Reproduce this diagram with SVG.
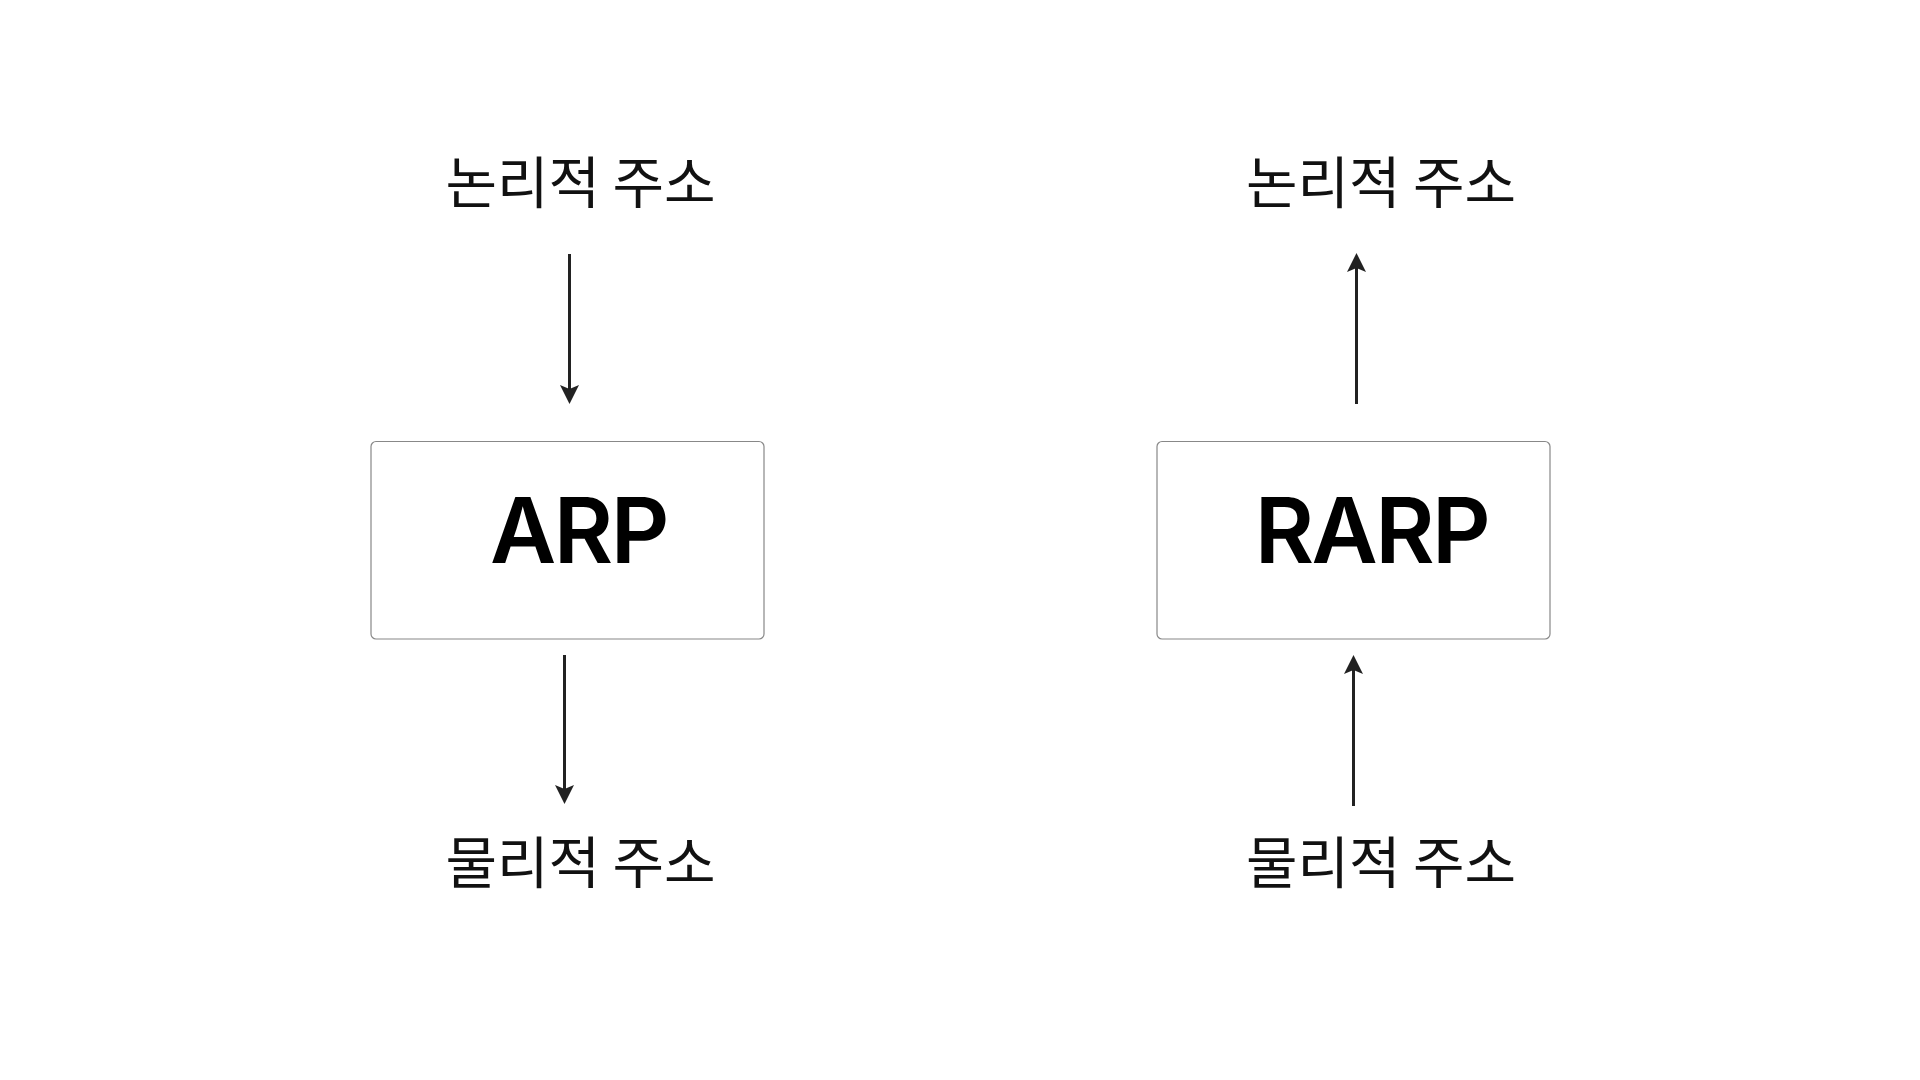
<svg xmlns="http://www.w3.org/2000/svg" width="1920" height="1080" viewBox="0 0 1920 1080">
  <style>
    .lbl { font-family: "Noto Sans CJK KR", "Noto Sans", sans-serif; font-size: 56px; font-weight: 400; fill: #111; text-anchor: middle; }
    .ttl { font-family: Inter, "Liberation Sans", sans-serif; font-size: 91px; font-weight: 600; fill: #000; text-anchor: middle; letter-spacing: -2.5px; }
    .box { fill: #fff; stroke: #888; stroke-width: 1.2; }
    .conn { stroke: #222; stroke-width: 3; fill: none; marker-end: url(#arrow); }
  </style>
  <defs>
    <marker id="arrow" markerUnits="userSpaceOnUse" markerWidth="20" markerHeight="20" refX="4" refY="9.5" orient="auto">
      <path d="M0,0 L19,9.5 L0,19 L4,9.5 Z" fill="#222"/>
    </marker>
  </defs>
  <rect width="1920" height="1080" fill="#fff"/>

  <g id="arp-logical">
    <text class="lbl" x="580.5" y="203">논리적 주소</text>
  </g>
  <g id="arp">
    <rect class="box" x="371" y="441.5" width="393" height="197.5" rx="5"/>
    <text class="ttl" x="578.5" y="563">ARP</text>
  </g>
  <g id="arp-physical">
    <text class="lbl" x="580.5" y="883">물리적 주소</text>
  </g>

  <g id="rarp-logical">
    <text class="lbl" x="1381" y="203">논리적 주소</text>
  </g>
  <g id="rarp">
    <rect class="box" x="1157" y="441.5" width="393" height="197.5" rx="5"/>
    <text class="ttl" x="1371.5" y="563">RARP</text>
  </g>
  <g id="rarp-physical">
    <text class="lbl" x="1381" y="883">물리적 주소</text>
  </g>

  <g id="connectors">
    <line class="conn" x1="569.5" y1="254" x2="569.5" y2="389"/>
    <line class="conn" x1="564.5" y1="655" x2="564.5" y2="789"/>
    <line class="conn" x1="1356.5" y1="404" x2="1356.5" y2="268"/>
    <line class="conn" x1="1353.5" y1="806" x2="1353.5" y2="670"/>
  </g>
</svg>
